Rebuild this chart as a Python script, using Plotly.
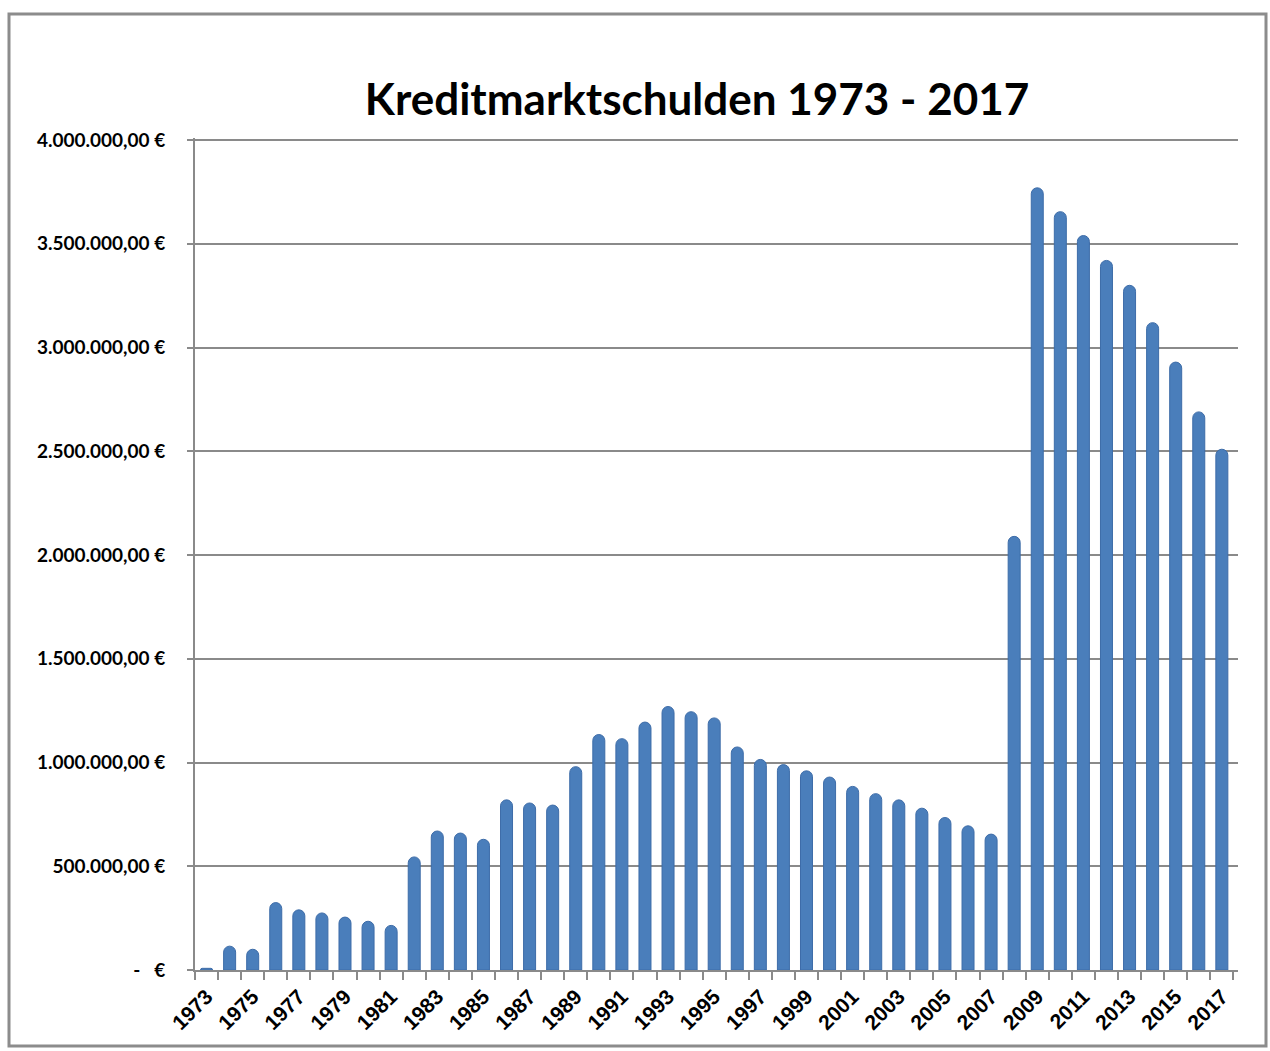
import plotly.graph_objects as go

years = [str(y) for y in range(1973, 2018)]
values = [
    8000, 115000, 100000, 325000, 290000, 275000, 255000, 235000, 215000,
    545000, 670000, 660000, 630000, 820000, 805000, 795000, 980000,
    1135000, 1115000, 1195000, 1270000, 1245000, 1215000, 1075000, 1015000,
    990000, 960000, 930000, 885000, 850000, 820000, 780000, 735000, 695000,
    655000, 2090000, 3770000, 3655000, 3540000, 3420000, 3300000, 3120000,
    2930000, 2690000, 2510000,
]
y_tickvals = [0, 500000, 1000000, 1500000, 2000000, 2500000, 3000000, 3500000, 4000000]
y_ticktext = ["-\u00a0\u00a0\u00a0€", "500.000,00 €", "1.000.000,00 €", "1.500.000,00 €",
              "2.000.000,00 €", "2.500.000,00 €", "3.000.000,00 €", "3.500.000,00 €",
              "4.000.000,00 €"]
x_ticktext = [y if i % 2 == 0 else "" for i, y in enumerate(years)]
title = "Kreditmarktschulden 1973 - 2017"

W, H = 1270, 1051
L, R, T, B = 195, 32, 138, 81
pw, ph = W - L - R, H - T - B

def px_x(px):
    return (px - L) / pw

def px_y(py):
    return (H - B - py) / ph

fig = go.Figure()
fig.add_trace(go.Bar(
    x=years, y=values,
    marker=dict(color="#4A7EBB", line=dict(color="#3D6CA8", width=1)),
    width=0.52,
))

fig.update_layout(
    width=W, height=H,
    margin=dict(l=L, r=R, t=T, b=B),
    paper_bgcolor="white", plot_bgcolor="white",
    showlegend=False,
    barcornerradius=6,
    title=dict(text=title, x=697 / W, xanchor="center", y=1 - 100 / H, yanchor="middle",
               font=dict(family="Lato", size=44, color="black", weight="bold")),
    xaxis=dict(
        type="category", tickmode="array", tickvals=years, ticktext=x_ticktext,
        tickangle=-45, tickson="boundaries", ticks="outside", ticklen=8,
        tickcolor="#8a8a8a", tickwidth=2, ticklabelstandoff=4,
        showline=True, linecolor="#8a8a8a", linewidth=2, showgrid=False,
        tickfont=dict(family="Liberation Sans", size=21, color="black", weight="bold"),
        range=[-0.5, 44.7],
    ),
    yaxis=dict(
        range=[0, 4010000], tickmode="array", tickvals=y_tickvals, ticktext=y_ticktext,
        showgrid=True, gridcolor="#8a8a8a", gridwidth=2,
        showline=True, linecolor="#8a8a8a", linewidth=2,
        ticks="outside", ticklen=6, tickcolor="#8a8a8a", tickwidth=2,
        ticklabelstandoff=18, zeroline=False,
        tickfont=dict(family="Lato", size=19, color="black", weight="bold"),
    ),
    shapes=[dict(type="rect", xref="paper", yref="paper",
                 x0=px_x(9), x1=px_x(1266), y0=px_y(1046), y1=px_y(14),
                 line=dict(color="#8c8c8c", width=3), layer="below")],
)

fig.write_html("out.html", config={"displayModeBar": False},
               post_script="document.body.style.margin='0';")
